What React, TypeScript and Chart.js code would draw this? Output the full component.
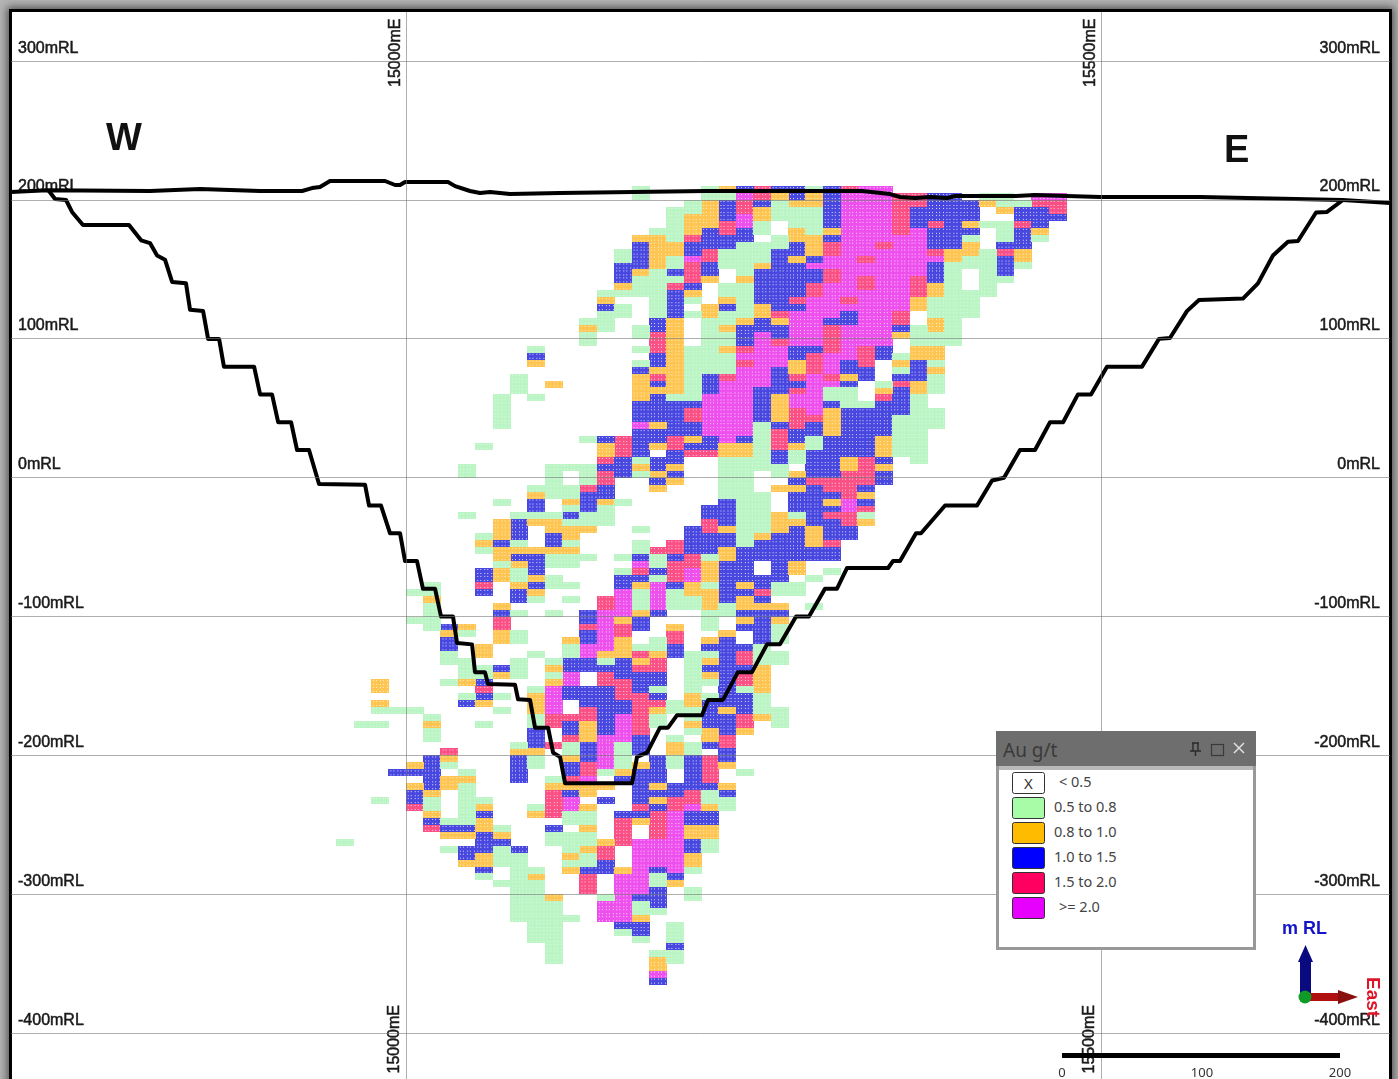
import React, { useEffect, useRef } from "react";
import { Chart, registerables } from "chart.js";

Chart.register(...registerables);

const rlTicks = [300, 200, 100, 0, -100, -200, -300, -400];
const eastTicks = [15000, 15500];
const legendLabels = ["< 0.5", "0.5 to 0.8", "0.8 to 1.0", "1.0 to 1.5", "1.5 to 2.0", ">= 2.0"];
const legendColors = ["#ffffff", "#a8fca8", "#ffbb00", "#0000ff", "#ff0060", "#e800ff"];
const scaleTicks = [0, 100, 200];

// east, RL
const topography: [number, number][] = [
  [14715.8, 205.8], [14741.7, 207], [14815.8, 206.5], [14851.8, 208], [14895, 206.5], [14925.2, 206.5],
  [14932.4, 208.6], [14938.1, 209.4], [14945.3, 213.7], [14984.9, 213.7], [14992.1, 210.8], [14995.7, 210.8],
  [14999.3, 213], [15030.2, 213], [15035.3, 210], [15046, 206.5], [15053.2, 205], [15060.4, 205.8],
  [15074.8, 204.3], [15110.8, 205], [15215.8, 206.5], [15297.8, 206.5], [15328, 206.5], [15348.2, 204.3],
  [15355.4, 202.2], [15366.2, 201.4], [15377, 202.2], [15389.2, 201.4], [15394.9, 202.9], [15438.8, 202.9],
  [15452.5, 203.6], [15475.5, 202.9], [15499.3, 202.2], [15571.2, 202.2], [15674, 200], [15707.9, 197.8],
];
const pitWest: [number, number][] = [
  [14742.7, 207], [14747.5, 200.7], [14755.4, 200], [14759.7, 191.4], [14767.6, 182], [14800.7, 182],
  [14809.4, 171], [14815.8, 169], [14820.9, 160], [14826.6, 157], [14831.7, 141], [14841.7, 140],
  [14844.6, 121], [14854, 120], [14857.6, 100], [14865.5, 100], [14869, 80], [14890.7, 80], [14895, 60],
  [14903.6, 60], [14908, 40], [14917.3, 40], [14921.6, 20], [14930.2, 20], [14937.4, -4.5], [14970.5, -5],
  [14973.4, -20], [14982, -20], [14988.5, -40], [14995.7, -40], [14999.3, -60], [15007.9, -60],
  [15012.2, -80], [15020.9, -80], [15025.2, -100], [15033.8, -100], [15036.7, -119], [15047.5, -120],
  [15049.6, -140], [15056.8, -140], [15059, -148.5], [15078.4, -149], [15080.6, -159.5], [15089.2, -160],
  [15092.8, -180], [15102.2, -180], [15105.8, -198], [15110.8, -201], [15114.4, -220],
];
const pitEast: [number, number][] = [
  [15162.6, -220], [15166.2, -201], [15173.4, -198], [15182.7, -180], [15188.5, -180], [15195, -171],
  [15212.9, -171], [15217.3, -160], [15228, -160], [15238.8, -140], [15248.9, -140], [15259.7, -120],
  [15269, -120], [15280.6, -100], [15289.9, -100], [15301.4, -80], [15310, -80], [15317.3, -65],
  [15346.8, -65], [15350.3, -60], [15355.4, -60], [15366.9, -40], [15370.5, -40], [15387.8, -20],
  [15410.8, -20], [15421.6, -2], [15430.2, 0], [15441.7, 20], [15452.5, 20], [15463.3, 40], [15472.7, 40],
  [15483.4, 60], [15492.8, 60], [15504.3, 80], [15529.5, 80], [15541.7, 100], [15549.6, 100.6],
  [15561.8, 120], [15570.5, 128], [15602.1, 129], [15612.9, 140], [15623.7, 160], [15634.5, 170],
  [15641.7, 170.5], [15654.7, 191], [15662.6, 191.4], [15674, 200],
];

// [column from 15000mE in 12.5 m steps, top RL of first 5 m block, grade classes downward]
// g 0.5-0.8, o 0.8-1.0, b 1.0-1.5, r 1.5-2.0, m >=2.0, "." no block
const westBlocks: [number, number, string][] = [
  [-4, -260, "g"],
  [-3, -175, "g"],
  [-2, -145, "oo"], [-2, -160, "og"], [-2, -175, "g"], [-2, -230, "g"],
  [-1, -165, "g"], [-1, -210, "b"],
  [0, -80, "g"], [0, -100, "g"], [0, -165, "g"], [0, -205, "ob.obbr"],
  [1, -75, "ggogggg"], [1, -170, "gogg"], [1, -200, "bbbbboggobr"],
  [2, -105, "bobb"], [2, -125, "gg"], [2, -145, "g"], [2, -195, "rog.oo"], [2, -245, "gbo.g"],
  [3, 10, "gg"], [3, -25, "g"], [3, -105, "og"], [3, -130, "gggo.gb"], [3, -210, "goggggggbo.bbo"],
  [4, 25, "g"], [4, -40, "gog"], [4, -65, "bbrb"], [4, -120, "oo"], [4, -135, "ggbrbo"], [4, -175, "g"],
  [4, -230, "goboobbboobg"],
  [5, 60, "ggggg"], [5, -15, "g"], [5, -30, "oooboogoo"], [5, -90, "obrroo"], [5, -135, "bo"],
  [5, -155, "g"], [5, -165, "g"], [5, -250, "gobggg"], [5, -290, "g"],
  [6, 75, "ggg"], [6, -25, "gbbbgoboggobb"], [6, -95, "g"], [6, -110, "gg"], [6, -130, "ggg"],
  [6, -190, "gobbbb"], [6, -265, "bgggggggggg"],
  [7, 95, "gbo"], [7, 60, "g"], [7, -5, "gobbgo"], [7, -50, "obbbobog"], [7, -125, "g"],
  [7, -150, "goooggbbbogg"], [7, -235, "go"], [7, -280, "goggggggggg"],
  [8, 70, "o"], [8, 10, "ggggg"], [8, -25, "goobbogg"], [8, -70, "gg"], [8, -95, "g"],
  [8, -130, "gogommmmrr"], [8, -190, "r"], [8, -215, "gorrrr"], [8, -250, "bgg"], [8, -300, "oggggggggg"],
  [9, 10, "g"], [9, -5, "gg"], [9, -15, "ogbgoogogg"], [9, -75, "g"], [9, -85, "g"],
  [9, -115, "oggbbmmbb..rbbrggobbrobmmgg.gggogo"], [9, -315, "g"],
];
const centralBlocks: [number, number, string][] = [
  [10, 115, "gogg"], [10, 30, "g"], [10, 10, "gggrbbbggo"], [10, -55, "g"],
  [10, -95, "bbrbbmmbb..bbbrrooobbbrrmoo.oggoggoggbrrr"],
  [11, 135, "gobggg"], [11, 30, "boorbrrbboggg"],
  [11, -85, "rrmmmmmmogbrrbbbbbbbmmmmmg.o.b.....orrbb...gmmm"],
  [12, 165, "ggbbbog.gg"], [12, 30, "rrrbbb"], [12, -15, "g"], [12, -55, "g"],
  [12, -65, "gbbmmmmorrooobbbrrrbbmmmmggggob....brrrr...ommmmmmmbg"],
  [13, 210, "gg"], [13, 175, "obbbboggg"], [13, 110, "gg"], [13, 95, "g"], [13, 85, "gboooobbbmbbbbgog"],
  [13, -35, "g"], [13, -45, "ggbmrbogggobb..grorbbbrrrrrrbbb.obbbbbrbo..mmmmmmmmbggobbg"],
  [14, 180, "gooooogggggggbbrrrbborbobbbbobbo.bbobo"], [14, -50, "rggbgmmmmb"],
  [14, -115, "ggorrbbgbrogg"], [14, -200, "bbbbobobrrrrmmmmbggbbbg"], [14, -340, "goomb"],
  [15, 195, "gggggooggbgrbbbbooooooooooogbbbbbrrbbobo"], [15, -45, "rrbrrrbggg"], [15, -105, "orrbb"],
  [15, -160, "gg"], [15, -185, "googg..bbrrmmmmmmmmmbo"], [15, -320, "gggbgg"],
  [16, 200, "ggooorbbmrrrbog.g"], [16, 95, "ggggggggbrrbbobr"], [16, -35, "bbbbrrmmoogg"],
  [16, -125, "ggggggooggog"], [16, -190, "ggbbbbbrrmbboobboog"], [16, -295, "gg"],
  [17, 210, "ggoooobbbrrbbo...ooggggggggbbbmmmmmmbbr"], [17, -20, "bbrrbbbgooogoooggg"], [17, -115, "obgobo"],
  [17, -145, "g.gbbbboob.rrrrbggobboogg"],
  [18, 210, "ogbbbrrbbggg..ggobggoggogggrmmmmmmmmmoo"], [18, 15, "gggggg"], [18, -15, "bbbbobboobbbbbbgg"],
  [18, -110, "obbbbbbbbbbobbbrrbbo..obgg"],
  [19, 210, "bmrrmmbbgggggogggggobbbrmrmmmmmmmmmmboogg"], [19, 5, "ggg"], [19, -10, "gggggggg"],
  [19, -50, "bbbbboboobob"], [19, -120, "brrbrrgbbbrro"], [19, -210, "g"],
  [20, 210, "rrboogg.gggobbbbboobbmmmmmmmmbbbbbggggggg"], [20, -10, "ggggggobbb..bbrbobbbbbgggoooogggo"],
];
const eastBlocks: [number, number, string][] = [
  [21, 210, "boggg..ggbbbbbbbbbrobbrmmmbbbboooobrrrbbgg"], [21, -5, "o"],
  [21, -25, "ooobbbbbbbgg.oboggg"], [21, -125, "gg"], [21, -165, "ggg"],
  [22, 210, "bbogggoobbobbbbbrbmmmmmbboorbrmmrrrbbogg.obobbbgobbbbboo.gg"],
  [23, 210, "googgggooobmbbrrmmmmmmmbrrrmmmmmmrbbggbbbbrbbbbbbooobb"], [23, -70, "g"], [23, -90, "g"],
  [24, 210, "bbbbbbobrrmmrrmmmmmbrrrrmmmrmggboooobbbbbbrrbobrbbbrbb"], [24, -65, "g"],
  [25, 210, "rmmmmmmmmmmmmmmmrmbbmmmmmbbobgggbbbbbbboorrrrmmrrbb"],
  [26, 210, "mmmmmmmmmmrmmrrmmmmmmmmrrrbb...gbbbbbbbrrrrbobrgo"],
  [27, 210, "mmmmmmmmrmmmmmmmmmmmmmmbb...gorbbbbbooobobb"],
  [28, 205, "rrrrrrmmmmmmmmmmmrrbo..gogbrbbbbgggggg"],
  [29, 205, "rrbbbmmmmmmmrrroo..gggoobbboogggggggggg"],
  [30, 205, "bbbbrbbbrmbbboogggooggoogoggg"], [30, 50, "ggg"],
  [31, 205, "bbbbbbbboogggggggggggg"],
  [32, 200, "bbbobgoogg...gggg"],
  [33, 205, "go..g...ggggggg"],
  [34, 205, "ggo.gggbrbbbg"],
  [35, 200, "gbbrbbboog"],
  [36, 205, "mrbbbog"],
  [37, 205, "mrrb"],
];

const gridE = 15000, blockW = 12.5, blockH = 5;
const gradeKeys = ["g", "o", "b", "r", "m"];
const baseFill = ["#bcf5c5", "#ffc552", "#4848e0", "#fb5086", "#ee50ee"];
const dotFill = ["#dcfbe0", "#fff0c8", "#dcdcff", "#ffd4e0", "#ffd4ff"];

function blockPoints(key: string) {
  const pts: { x: number; y: number }[] = [];
  for (const [col, top, str] of [...westBlocks, ...centralBlocks, ...eastBlocks]) {
    [...str].forEach((c, i) => {
      if (c === key) pts.push({ x: gridE + blockW * col + blockW / 2, y: top - blockH * i - blockH / 2 });
    });
  }
  return pts;
}

function texture(i: number) {
  const c = document.createElement("canvas");
  c.width = 18;
  c.height = 7;
  const g = c.getContext("2d")!;
  g.fillStyle = baseFill[i];
  g.fillRect(0, 0, 18, 7);
  g.fillStyle = dotFill[i];
  for (const x of [2, 5, 9, 12, 16]) for (const y of [1, 5]) g.fillRect(x, y, 1, 1);
  return c;
}

const toPts = (a: [number, number][]) => a.map(([x, y]) => ({ x, y }));
const font = "'Liberation Sans', Arial, sans-serif";
const labelFont = "'Noto Sans', sans-serif";

export default function App() {
  const ref = useRef<HTMLCanvasElement>(null);
  useEffect(() => {
    const zeroH = (s: any) => { s.height = 0; s.paddingLeft = 0; s.paddingRight = 0; s.paddingTop = 0; s.paddingBottom = 0; };
    const zeroW = (s: any) => { s.width = 0; s.paddingLeft = 0; s.paddingRight = 0; s.paddingTop = 0; s.paddingBottom = 0; };
    const eTicks = (s: any) => { s.ticks = eastTicks.map((value) => ({ value })); };
    const rTicks = (s: any) => { s.ticks = rlTicks.map((value) => ({ value })); };
    const tickFont = { family: font, size: 16 };
    const rlLabel = (v: any) => `${v}mRL`;
    const eLabel = (v: any) => `${v}mE`;
    const lineSet = (label: string, data: [number, number][]) => ({
      label, data: toPts(data), showLine: true, borderColor: "#000", backgroundColor: "#000",
      borderWidth: 4, pointRadius: 0, tension: 0, order: 1, borderJoinStyle: "round",
    });
    const chart = new Chart(ref.current!, {
      type: "scatter",
      data: {
        datasets: [
          lineSet("Topography", topography),
          lineSet("Pit", [...pitWest, ...pitEast]),
          ...gradeKeys.map((k, i) => ({
            label: legendLabels[i + 1],
            data: blockPoints(k),
            pointStyle: texture(i),
            pointRadius: 1,
            order: 2,
          })),
        ],
      } as any,
      options: {
        responsive: false,
        animation: false,
        events: [],
        layout: { autoPadding: false, padding: { left: 11, right: 8, top: 12, bottom: 0 } },
        plugins: { legend: { display: false }, tooltip: { enabled: false } },
        scales: {
          x: {
            type: "linear", position: "top", min: 14715.8, max: 15707.9,
            afterFit: zeroH, afterBuildTicks: eTicks,
            border: { display: false },
            grid: { color: "rgba(120,120,120,0.6)", drawTicks: false, z: 1 },
            ticks: {
              autoSkip: false, minRotation: 90, maxRotation: 90, mirror: true, padding: 75, labelOffset: -10,
              color: "#1a1a1a", font: tickFont, callback: eLabel,
              textStrokeColor: "#1a1a1a", textStrokeWidth: 0.5,
            },
          },
          xBottom: {
            type: "linear", position: "bottom", min: 14715.8, max: 15707.9,
            afterFit: zeroH, afterBuildTicks: eTicks,
            border: { display: false }, grid: { display: false, drawTicks: false },
            ticks: {
              autoSkip: false, minRotation: 90, maxRotation: 90, mirror: true, padding: 74, labelOffset: 8,
              color: "#1a1a1a", font: tickFont, callback: eLabel,
              textStrokeColor: "#1a1a1a", textStrokeWidth: 0.5,
            },
          },
          y: {
            type: "linear", position: "left", min: -433, max: 335.4,
            afterFit: zeroW, afterBuildTicks: rTicks,
            border: { display: false },
            grid: { color: "rgba(120,120,120,0.6)", drawTicks: false, z: 1 },
            ticks: {
              mirror: true, padding: 7, labelOffset: -13, autoSkip: false,
              color: "#1a1a1a", font: tickFont, callback: rlLabel,
              textStrokeColor: "#1a1a1a", textStrokeWidth: 0.5,
            },
          },
          yRight: {
            type: "linear", position: "right", min: -433, max: 335.4,
            afterFit: zeroW, afterBuildTicks: rTicks,
            border: { display: false }, grid: { display: false, drawTicks: false },
            ticks: {
              mirror: true, padding: -10, labelOffset: -13, autoSkip: false,
              color: "#1a1a1a", font: tickFont, callback: rlLabel,
              textStrokeColor: "#1a1a1a", textStrokeWidth: 0.5,
            },
          },
        },
      } as any,
    });
    return () => chart.destroy();
  }, []);

  const swatchY = [772, 797, 822, 847, 872, 897];
  const labelX = [1059, 1054, 1054, 1054, 1054, 1059];
  const scaleX = [1062, 1202, 1340];
  return (
    <div style={{ position: "fixed", left: 0, top: 0, width: 1398, height: 1079, overflow: "hidden", background: "#b4b4b4", filter: "blur(0.4px)" }}>
      <div style={{ position: "absolute", left: 9, top: 9, width: 1377, height: 1090, background: "#fff", border: "3px solid #000", boxShadow: "0 0 8px 2px rgba(0,0,0,0.55)" }} />
      <canvas ref={ref} width={1398} height={1079} style={{ position: "absolute", left: 0, top: 0, display: "block" }} />
      <svg width={1398} height={1079} style={{ position: "absolute", left: 0, top: 0 }}>
        <text x={106} y={150} fontFamily={font} fontWeight="bold" fontSize={38} fill="#111">W</text>
        <text x={1224} y={162} fontFamily={font} fontWeight="bold" fontSize={38} fill="#111">E</text>

        <rect x={1062} y={1053} width={278} height={5} fill="#000" />
        {scaleTicks.map((t, i) => (
          <text key={t} x={scaleX[i]} y={1077} textAnchor="middle" fontFamily={labelFont} fontSize={13} fill="#333">{t}</text>
        ))}

        <text x={1282} y={934} fontFamily={font} fontWeight="bold" fontSize={18} fill="#1414c8">m RL</text>
        <rect x={1300} y={961} width={11} height={36} fill="#0a0a80" />
        <polygon points="1305.5,945 1298,962 1313,962" fill="#0a0a80" />
        <rect x={1305} y={993} width={35} height={8} fill="#b01010" />
        <polygon points="1358,997 1338,990 1338,1004" fill="#8a1010" />
        <circle cx={1305} cy={997} r={6.5} fill="#109a28" />
        <text transform="translate(1367,977) rotate(90)" fontFamily={font} fontWeight="bold" fontSize={19} fill="#e01428">East</text>

        <rect x={996} y={731} width={260} height={219} fill="#fff" stroke="none" />
        <rect x={997.5} y={732.5} width={257} height={216} fill="none" stroke="#999" strokeWidth={3} />
        <rect x={996} y={731} width={260} height={35} fill="#6e6e6e" />
        <rect x={999} y={766} width={254} height={4} fill="#b9b9b9" />
        <text x={1003} y={757} fontFamily={labelFont} fontSize={19} fill="#3a3a3a">Au g/t</text>
        <path d="M1192 743h7M1193 743v8h5v-8M1190 751h11M1195.5 751v5" stroke="#2a2a2a" strokeWidth={1.4} fill="none" />
        <rect x={1211.5} y={744.5} width={12} height={11} fill="none" stroke="#3a3a3a" strokeWidth={1.2} />
        <path d="M1234 743l10 10M1244 743l-10 10" stroke="#e0e0e0" strokeWidth={1.5} />
        {legendLabels.map((l, i) => (
          <g key={l}>
            <rect x={1012.5} y={swatchY[i] + 0.5} width={32} height={21} rx={2} fill={legendColors[i]} stroke="#333" strokeWidth={1} />
            {i === 0 && <text x={1028.5} y={789} textAnchor="middle" fontFamily={labelFont} fontSize={15} fill="#333">X</text>}
            <text x={labelX[i]} y={swatchY[i] + 15} fontFamily={labelFont} fontSize={14.5} fill="#444">{l}</text>
          </g>
        ))}
      </svg>
    </div>
  );
}
